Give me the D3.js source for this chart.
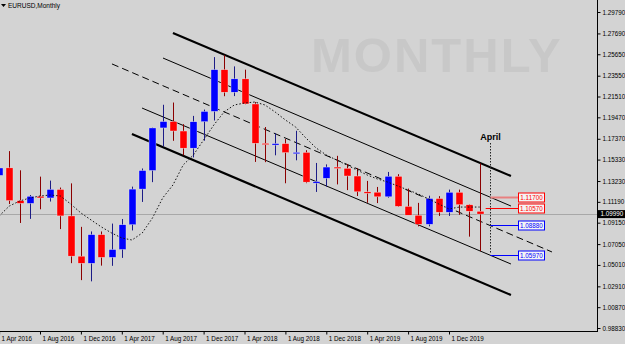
<!DOCTYPE html>
<html>
<head>
<meta charset="utf-8">
<script src="https://cdn.jsdelivr.net/npm/d3@7/dist/d3.min.js"></script>
<style>
 body { margin:0; background:#d3d3d3; }
 svg { display:block; font-family:"Liberation Sans", Arial, sans-serif; }
</style>
</head>
<body>
<div id="chart"></div>
<script>

// monthly EURUSD bars, Apr 2016 .. Mar 2020
var months = ["2016-04","2016-05","2016-06","2016-07","2016-08","2016-09","2016-10","2016-11","2016-12",
 "2017-01","2017-02","2017-03","2017-04","2017-05","2017-06","2017-07","2017-08","2017-09","2017-10","2017-11","2017-12",
 "2018-01","2018-02","2018-03","2018-04","2018-05","2018-06","2018-07","2018-08","2018-09","2018-10","2018-11","2018-12",
 "2019-01","2019-02","2019-03","2019-04","2019-05","2019-06","2019-07","2019-08","2019-09","2019-10","2019-11","2019-12",
 "2020-01","2020-02","2020-03"];
var opens  = [1.1378,1.1452,1.1131,1.1104,1.1174,1.1157,1.1241,1.0981,1.0587,
 1.0517,1.0798,1.0575,1.0652,1.0895,1.1244,1.1426,1.1843,1.1906,1.1813,1.1645,1.1904,
 1.2005,1.2414,1.2193,1.2324,1.2078,1.1693,1.1684,1.1690,1.1601,1.1604,1.1312,1.1350,
 1.1460,1.1448,1.1372,1.1217,1.1214,1.1168,1.1370,1.1075,1.0988,1.0899,1.1152,1.1017,
 1.1213,1.1091,1.1027];
var highs  = [1.1616,1.1616,1.1428,1.1186,1.1366,1.1327,1.1259,1.1300,1.0874,
 1.0829,1.0829,1.0906,1.0951,1.1268,1.1446,1.1846,1.2070,1.2092,1.1880,1.1961,1.2023,
 1.2537,1.2556,1.2446,1.2414,1.2097,1.1852,1.1791,1.1734,1.1815,1.1625,1.1500,1.1486,
 1.1570,1.1489,1.1448,1.1324,1.1265,1.1412,1.1390,1.1249,1.1109,1.1179,1.1175,1.1239,
 1.1239,1.1095,1.1495];
var lows   = [1.1217,1.1098,1.0912,1.0952,1.1046,1.1122,1.0852,1.0518,1.0352,
 1.0340,1.0494,1.0492,1.0570,1.0839,1.1118,1.1312,1.1662,1.1717,1.1575,1.1554,1.1718,
 1.1916,1.2154,1.2155,1.2075,1.1510,1.1508,1.1575,1.1301,1.1526,1.1302,1.1216,1.1269,
 1.1290,1.1234,1.1176,1.1110,1.1107,1.1160,1.1070,1.1027,1.0879,1.0879,1.0981,1.0981,
 1.0992,1.0778,1.0636];
var closes = [1.1451,1.1131,1.1104,1.1174,1.1157,1.1241,1.0981,1.0587,1.0517,
 1.0798,1.0575,1.0652,1.0895,1.1244,1.1426,1.1843,1.1906,1.1813,1.1645,1.1904,1.2005,
 1.2414,1.2193,1.2324,1.2078,1.1693,1.1684,1.1690,1.1601,1.1604,1.1312,1.1317,1.1460,
 1.1448,1.1372,1.1217,1.1214,1.1168,1.1370,1.1075,1.0988,1.0899,1.1152,1.1017,1.1213,
 1.1091,1.1027,1.0999];

// dotted moving average
var maValues = [1.0980,1.1078,1.1127,1.1157,1.1176,1.1186,1.1176,1.1098,1.1010,
 1.0941,1.0873,1.0814,1.0765,1.0745,1.0814,1.0961,1.1157,1.1284,1.1480,1.1578,1.1725,
 1.1872,1.1999,1.2068,1.2087,1.2097,1.2068,1.1999,1.1921,1.1852,1.1745,1.1647,1.1578,
 1.1529,1.1480,1.1431,1.1382,1.1343,1.1313,1.1274,1.1235,1.1196,1.1147,1.1098,1.1049,
 1.1068,1.1068,1.1068];

var priceTicks = [1.29790,1.27690,1.25650,1.23550,1.21510,1.19470,1.17370,1.15330,
 1.13230,1.11190,1.09150,1.07050,1.05010,1.02910,1.00870,0.98830];
var timeTickIdx = [0,4,8,12,16,20,24,28,32,36,40,44];
var timeTickLabels = ["1 Apr 2016","1 Aug 2016","1 Dec 2016","1 Apr 2017","1 Aug 2017","1 Dec 2017",
 "1 Apr 2018","1 Aug 2018","1 Dec 2018","1 Apr 2019","1 Aug 2019","1 Dec 2019"];
var lastPrice = 1.09990;

// channel lines: [bar index, price] start and end
var channelFrom = [[17.0,1.2773],[16.03,1.2528],[11.04,1.2470],[13.98,1.2038],[12.99,1.1784]];
var channelTo   = [[50.06,1.1372],[50.06,1.1078],[54.07,1.0628],[50.06,1.0510],[50.06,1.0206]];
var channelKind = ["thick","thin","dash","thin","thick"];

// horizontal price levels on the right
var levelValues = [1.11700,1.10570,1.08880,1.05970];
var levelKind   = ["resist","resist","support","support"];
var aprilIdx = 48;

var W = 625, H = 344, plotR = 597, plotB = 331;
var BAR = 10.225;

var x = d3.scaleLinear().domain([0, 47]).range([-0.9, -0.9 + 47*BAR]);
var y = d3.scaleLinear().domain([0.98830, 1.29790]).range([328, 12]);

var svg = d3.select('#chart').append('svg')
  .attr('width', W).attr('height', H)
  .style('background-color', '#d3d3d3');

svg.append('clipPath').attr('id','plot')
  .append('rect').attr('x',0).attr('y',0).attr('width',plotR).attr('height',plotB);

// watermark
svg.append('text')
  .attr('x', 311).attr('y', 72)
  .style('font-size','49px').style('font-weight','bold')
  .style('letter-spacing','2px')
  .attr('fill','#c8c8c8')
  .text('MONTHLY');

var g = svg.append('g').attr('clip-path','url(#plot)');

// bid line
g.append('line')
  .attr('x1',0).attr('x2',plotR)
  .attr('y1',Math.round(y(lastPrice))+0.5).attr('y2',Math.round(y(lastPrice))+0.5)
  .attr('stroke','#a8a8a8').attr('stroke-width',1);

// channel
channelFrom.forEach(function(p, i){
  var k = channelKind[i];
  g.append('line')
    .attr('x1', x(p[0])).attr('y1', y(p[1]))
    .attr('x2', x(channelTo[i][0])).attr('y2', y(channelTo[i][1]))
    .attr('stroke','#000')
    .attr('stroke-width', k=='thick' ? 2.2 : 1)
    .attr('stroke-dasharray', k=='dash' ? '7,4' : null);
});

// candles
var bars = months.map(function(m, i){
  return {i:i, o:opens[i], h:highs[i], l:lows[i], c:closes[i]};
});

g.selectAll('line.wick')
  .data(bars).enter().append('line')
  .classed('wick', true)
  .attr('x1', function(d){ return Math.round(x(d.i))+0.5; })
  .attr('x2', function(d){ return Math.round(x(d.i))+0.5; })
  .attr('y1', function(d){ return y(d.h); })
  .attr('y2', function(d){ return y(d.l); })
  .attr('stroke', function(d){ return d.c>=d.o ? '#1c1c86' : '#8b0000'; })
  .attr('stroke-width', 1);

g.selectAll('rect.body')
  .data(bars).enter().append('rect')
  .classed('body', true)
  .attr('x', function(d){ return Math.round(x(d.i)) - 3; })
  .attr('width', 7)
  .attr('y', function(d){ return y(Math.max(d.o,d.c)); })
  .attr('height', function(d){ return Math.max(1.5, Math.abs(y(d.o)-y(d.c))); })
  .attr('fill', function(d){ return d.c>=d.o ? '#0000ff' : '#ff0000'; })
  .attr('stroke', '#f0f0f0').attr('stroke-width', 0.4);

// moving average
var maLine = d3.line()
  .x(function(d,i){ return x(i); })
  .y(function(d){ return y(d); });
g.append('path')
  .attr('d', maLine(maValues))
  .attr('fill','none').attr('stroke','#111')
  .attr('stroke-width',1).attr('stroke-dasharray','1.5,2');

// April marker
var xa = Math.round(x(aprilIdx))+0.5;
g.append('line')
  .attr('x1',xa).attr('x2',xa).attr('y1',143).attr('y2',y(1.0620))
  .attr('stroke','#222').attr('stroke-width',1).attr('stroke-dasharray','1.5,1.5');
g.append('text')
  .attr('x',xa).attr('y',140)
  .attr('text-anchor','middle')
  .style('font-size','9px').style('font-weight','bold')
  .text('April');

// levels
var boxX = 518, boxW = 26, boxH = 9;
levelValues.forEach(function(v, i){
  var col = levelKind[i]=='resist' ? '#ff0000' : '#0000ff';
  var py = Math.round(y(v))+0.5;
  var startX = i==1 ? x(47)+6 : xa;
  g.append('line')
    .attr('x1', startX).attr('x2', boxX)
    .attr('y1', py).attr('y2', py)
    .attr('stroke', i==0 ? '#e88080' : col)
    .attr('stroke-width', i==0 ? 2 : 1);
  g.append('rect')
    .attr('x', boxX+0.5).attr('y', py-boxH/2)
    .attr('width', boxW).attr('height', boxH)
    .attr('fill','#f4f4f4').attr('stroke', col).attr('stroke-width',1);
  g.append('text')
    .attr('x', boxX+0.5+boxW/2).attr('y', py+2.3)
    .attr('text-anchor','middle')
    .style('font-size','6.3px')
    .attr('fill', col)
    .text(d3.format('.5f')(v));
});

// axes
var yAxis = d3.axisRight(y).tickValues(priceTicks)
  .tickFormat(d3.format('.5f')).tickSize(3).tickPadding(2);
var ya = svg.append('g').attr('transform','translate('+(plotR+0.5)+',0)').call(yAxis);
ya.select('.domain').remove();
ya.selectAll('text').style('font-size','6.3px').attr('fill','#000');

var xAxis = d3.axisBottom(x).tickValues(timeTickIdx)
  .tickFormat(function(d,i){ return timeTickLabels[i]; }).tickSize(3).tickPadding(2);
var xa2 = svg.append('g').attr('transform','translate(0,'+(plotB+0.5)+')').call(xAxis);
xa2.select('.domain').remove();
xa2.selectAll('text').style('font-size','6.3px').attr('fill','#000')
  .attr('text-anchor','start').attr('x',2);

svg.append('line').attr('x1',plotR+0.5).attr('x2',plotR+0.5).attr('y1',0).attr('y2',plotB+1)
  .attr('stroke','#000');
svg.append('line').attr('x1',0).attr('x2',plotR+1).attr('y1',plotB+0.5).attr('y2',plotB+0.5)
  .attr('stroke','#000');

// last price tag
var ly = y(lastPrice);
svg.append('rect').attr('x',plotR+1).attr('y',ly-4).attr('width',W-plotR-1).attr('height',8)
  .attr('fill','#000');
svg.append('text').attr('x',plotR+3.5).attr('y',ly+2.3)
  .style('font-size','6.3px').attr('fill','#fff')
  .text(d3.format('.5f')(lastPrice));

// title
svg.append('path').attr('d','M1,4 L6,4 L3.5,7 Z').attr('fill','#000');
svg.append('text').attr('x',8).attr('y',8)
  .style('font-size','6.5px').attr('fill','#000')
  .text('EURUSD,Monthly');

</script>
</body>
</html>
